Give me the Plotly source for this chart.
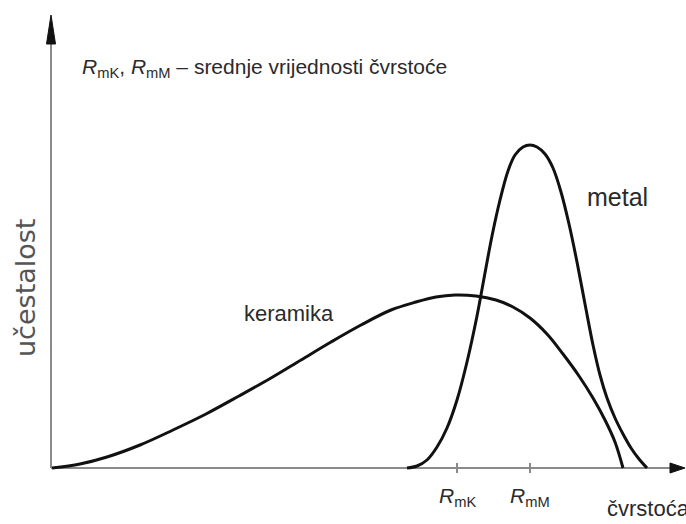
import plotly.graph_objects as go

# ---- data (strength on x, frequency on y; arbitrary units) ----
keramika_x = [1, 29, 56, 89, 122, 155, 188, 220, 250, 280, 310, 340, 365, 385, 404, 425, 445, 462, 479, 496, 512, 528, 542, 554, 564, 572]
keramika_y = [0, 4, 11, 23, 38, 54, 72, 90, 108, 126, 143, 158, 166, 171, 173, 172, 168, 161, 150, 134, 114, 92, 70, 48, 26, 0]

metal_x = [356, 366, 376, 386, 396, 406, 416, 426, 434, 441, 449, 457, 464, 472, 479, 486, 494, 502, 510, 518, 526, 534, 542, 549, 556, 564, 572, 580, 588, 596]
metal_y = [0, 2, 8, 21, 40, 68, 106, 152, 195, 232, 268, 297, 313, 321, 323, 321, 314, 300, 276, 244, 206, 164, 123, 93, 70, 50, 34, 20, 9, 0]

tick_vals = [406, 479]
tick_text = ["<i>R</i><sub>mK</sub>", "<i>R</i><sub>mM</sub>"]

title_text = "<i>R</i><sub>mK</sub>, <i>R</i><sub>mM</sub> – srednje vrijednosti čvrstoće"
x_label = "čvrstoća"
y_label = "učestalost"

FONT = "Liberation Sans, Arial, sans-serif"
TXT = "#2a2a2a"
AX = "#8a8a8a"

fig = go.Figure()
fig.add_trace(go.Scatter(x=keramika_x, y=keramika_y, mode="lines",
                         line=dict(color="#111", width=3, shape="spline", smoothing=1.0),
                         hoverinfo="skip", showlegend=False))
fig.add_trace(go.Scatter(x=metal_x, y=metal_y, mode="lines",
                         line=dict(color="#111", width=3, shape="spline", smoothing=1.0),
                         hoverinfo="skip", showlegend=False))

shapes = []
# axes lines
shapes.append(dict(type="line", xref="x", yref="y", x0=0, y0=0, x1=622, y1=0,
                   line=dict(color=AX, width=2), layer="below"))
shapes.append(dict(type="line", xref="x", yref="y", x0=0, y0=0, x1=0, y1=428,
                   line=dict(color=AX, width=2), layer="below"))
# arrowheads
shapes.append(dict(type="path", xref="x", yref="y",
                   path="M 0 453 L -4.5 424 L 4.5 424 Z",
                   fillcolor="#111", line=dict(color="#111", width=1)))
shapes.append(dict(type="path", xref="x", yref="y",
                   path="M 634 0 L 619 -5 L 619 5 Z",
                   fillcolor="#111", line=dict(color="#111", width=1)))
# ticks
for tv in tick_vals:
    shapes.append(dict(type="line", xref="x", yref="y", x0=tv, y0=-5, x1=tv, y1=5,
                       line=dict(color=AX, width=2)))

annotations = []
for tv, tt in zip(tick_vals, tick_text):
    annotations.append(dict(x=tv, y=-29, xref="x", yref="y", text=tt, showarrow=False,
                            xanchor="center", yanchor="middle",
                            font=dict(family=FONT, size=21, color=TXT)))
annotations.append(dict(x=554, y=-40, xref="x", yref="y", text=x_label, showarrow=False,
                        xanchor="left", yanchor="middle",
                        font=dict(family=FONT, size=22, color=TXT)))
annotations.append(dict(x=-26, y=180, xref="x", yref="y", text=y_label, showarrow=False,
                        textangle=-90, xanchor="center", yanchor="middle",
                        font=dict(family="DejaVu Sans, sans-serif", size=27, color="#555")))
annotations.append(dict(x=29, y=400, xref="x", yref="y", text=title_text, showarrow=False,
                        xanchor="left", yanchor="middle",
                        font=dict(family=FONT, size=21, color=TXT)))
annotations.append(dict(x=191, y=155, xref="x", yref="y", text="keramika", showarrow=False,
                        xanchor="left", yanchor="middle",
                        font=dict(family=FONT, size=22, color=TXT)))
annotations.append(dict(x=534, y=271, xref="x", yref="y", text="metal", showarrow=False,
                        xanchor="left", yanchor="middle",
                        font=dict(family=FONT, size=25, color=TXT)))

fig.update_layout(
    width=686, height=524,
    margin=dict(l=0, r=0, t=0, b=0, pad=0),
    paper_bgcolor="white", plot_bgcolor="white",
    xaxis=dict(range=[-51, 635], visible=False, fixedrange=True),
    yaxis=dict(range=[-56, 468], visible=False, fixedrange=True),
    shapes=shapes, annotations=annotations,
    showlegend=False,
)

fig.write_html("out.html", config={"displayModeBar": False},
               post_script="document.body.style.margin='0';")
